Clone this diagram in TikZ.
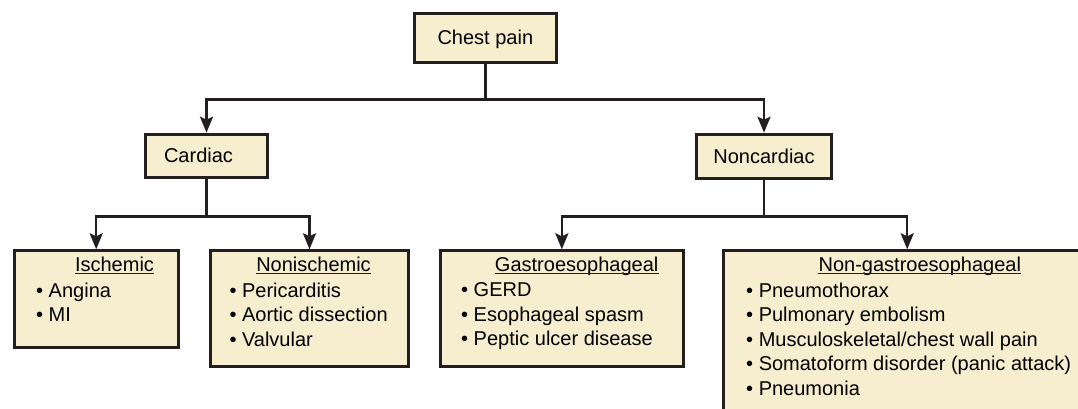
\documentclass[tikz,border=0pt]{standalone}
\usepackage{fontspec}
\setmainfont{Liberation Sans}
\usepackage{xcolor}
\usetikzlibrary{arrows.meta, positioning, calc}
\definecolor{boxfill} {RGB}{246,238,206}
\definecolor{edgegray}{RGB}{ 35, 31, 32}

\begin{document}
\begin{tikzpicture}[
  x=1pt, y=-1pt,
  box/.style={
    rectangle, anchor=north west,
    draw=edgegray, fill=boxfill, line width=3pt,
    inner sep=0pt, text height=14pt, text depth=0pt,
    font=\fontsize{20}{24.4}\selectfont},
  head/.style={anchor=base, inner sep=0pt,
    font=\fontsize{20}{24.4}\selectfont},
  items/.style={anchor=north west, inner sep=0pt, align=left,
    font=\fontsize{20}{24.4}\selectfont},
  uline/.style={line width=1.3pt, edgegray},
  arr/.style={-{Stealth[length=16pt, width=13pt, inset=3pt]},
    line width=2.5pt, edgegray}
]
  \useasboundingbox (0,0) rectangle (1078,409);
  \clip (0,0) rectangle (1078,409);
  % Top levels
  \node[box, minimum width=142.3pt, minimum height=49.3pt] (chest)
    at (412.7,11.7) {Chest pain};
  \node[box, minimum width=122pt, minimum height=43.3pt] (card)
    at (144,132.7) {\hspace*{-16pt}Cardiac};
  \node[box, minimum width=135pt, minimum height=44pt] (noncard)
    at (695,132.7) {Noncardiac};
  % Lists
  \node[box, minimum width=164pt, minimum height=96.4pt] (isch)
    at (12.7,249.3) {};
  \node[box, minimum width=198pt, minimum height=115.7pt] (nonisch)
    at (209,249.3) {};
  \node[box, minimum width=242.7pt, minimum height=115.7pt] (gastro)
    at (439,249.3) {};
  \node[box, minimum width=368pt, minimum height=180pt] (nongastro)
    at (721.7,249.3) {};
  \node[head] (ischT) at (114.5,271.7) {Ischemic};
  \node[head] (nonischT) at (313.5,271.7) {Nonischemic};
  \node[head] (gastroT) at (576.7,271.7) {Gastroesophageal};
  \node[head] (nongastroT) at (919.8,271.7) {Non-gastroesophageal};
  \node[items] (ischL) at (36,282.8) {• Angina\\• MI};
  \node[items] (nonischL) at (229.3,282.8)
    {• Pericarditis\\• Aortic dissection\\• Valvular};
  \node[items] (gastroL) at (461,282.8)
    {• GERD\\• Esophageal spasm\\• Peptic ulcer disease};
  \node[items] (nongastroL) at (746,282.8)
    {• Pneumothorax\\• Pulmonary embolism\\• Musculoskeletal/chest wall pain\\%
     • Somatoform disorder (panic attack)\\• Pneumonia};
  % Underlines
  \foreach \t in {ischT, nonischT, gastroT, nongastroT}
    \draw[uline] ([yshift=-1.6pt]\t.base west) -- ([yshift=-1.6pt]\t.base east);
  % Arrows
  \draw[arr] (chest.south) -- ++(0,35.7) -| (card.north);
  \draw[arr] (chest.south) -- ++(0,35.7) -| (noncard.north);
  \draw[arr] (card.south) -- ++(0,37.5) -| (isch.north);
  \draw[arr] (card.south) -- ++(0,37.5) -| (nonisch.north);
  \draw[arr] (noncard.south) -- ++(0,36.6) -| (gastro.north);
  \draw[arr] (noncard.south) -- ++(0,36.6) -| (nongastro.north);
\end{tikzpicture}
\end{document}
